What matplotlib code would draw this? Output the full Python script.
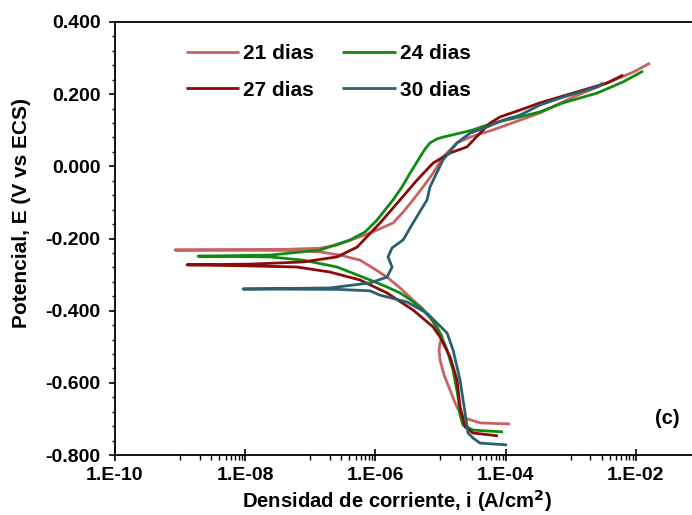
import numpy as np
import matplotlib
matplotlib.use("Agg")
import matplotlib.pyplot as plt
from matplotlib.ticker import FixedLocator, FuncFormatter

plt.rcParams['font.family'] = ['Liberation Sans', 'DejaVu Sans']
plt.rcParams['font.weight'] = 'bold'

# ---- data: log10(current density, A/cm2) and potential (V vs ECS) ----
labels = ["21 dias", "24 dias", "27 dias", "30 dias"]
colors = ["#C96262", "#118A11", "#8B0A0A", "#2C6070"]

logi_21 = [-3.931, -4.392, -4.623, -4.700, -4.776, -4.853, -4.946, -5.007, -5.022, -5.007, -4.976,
           -5.053, -5.161, -5.283, -5.422, -5.621, -5.821, -6.036, -6.236, -6.543, -6.850, -7.357,
           -9.078, -7.357, -6.850, -6.589, -6.082, -5.729, -5.575, -5.422, -5.268, -5.114, -4.961,
           -4.746, -4.546, -4.193, -3.778, -3.471, -2.964, -2.441, -2.042, -1.781]
E_21 = [-0.714, -0.711, -0.698, -0.684, -0.656, -0.620, -0.578, -0.537, -0.509, -0.490, -0.473,
        -0.445, -0.418, -0.393, -0.371, -0.337, -0.307, -0.282, -0.260, -0.246, -0.237, -0.233,
        -0.232, -0.230, -0.227, -0.218, -0.185, -0.157, -0.127, -0.093, -0.057, -0.019, 0.026,
        0.065, 0.081, 0.101, 0.128, 0.148, 0.192, 0.231, 0.261, 0.286]

logi_24 = [-4.039, -4.500, -4.654, -4.700, -4.730, -4.807, -4.899, -5.007, -5.130, -5.268, -5.437,
           -5.621, -5.852, -6.082, -6.589, -7.112, -7.619, -8.725, -7.619, -6.850, -6.390, -6.159,
           -5.975, -5.729, -5.591, -5.468, -5.314, -5.237, -5.161, -5.053, -4.961, -4.700, -4.500,
           -4.193, -3.778, -3.471, -3.117, -2.595, -2.195, -1.888]
E_24 = [-0.736, -0.731, -0.717, -0.689, -0.639, -0.565, -0.509, -0.462, -0.426, -0.398, -0.373,
        -0.351, -0.332, -0.315, -0.279, -0.260, -0.251, -0.249, -0.246, -0.232, -0.204, -0.182,
        -0.149, -0.093, -0.057, -0.019, 0.026, 0.048, 0.065, 0.076, 0.081, 0.092, 0.101,
        0.120, 0.137, 0.151, 0.176, 0.203, 0.234, 0.264]

logi_27 = [-4.116, -4.500, -4.623, -4.700, -4.746, -4.853, -5.007, -5.114, -5.422, -5.821, -6.236,
           -6.697, -7.204, -7.926, -8.894, -7.926, -7.112, -6.589, -6.282, -5.929, -5.621, -5.360,
           -5.114, -4.853, -4.592, -4.392, -4.239, -4.085, -3.778, -3.471, -2.964, -2.441, -2.195]
E_27 = [-0.747, -0.739, -0.722, -0.667, -0.592, -0.528, -0.473, -0.445, -0.398, -0.351, -0.315,
        -0.293, -0.279, -0.276, -0.273, -0.271, -0.265, -0.251, -0.224, -0.157, -0.093, -0.038,
        0.009, 0.037, 0.054, 0.092, 0.120, 0.137, 0.156, 0.176, 0.203, 0.231, 0.253]

logi_30 = [-3.978, -4.392, -4.500, -4.577, -4.623, -4.700, -4.807, -4.899, -5.207, -5.514, -5.929,
           -6.082, -6.589, -8.033, -6.697, -6.082, -5.821, -5.744, -5.806, -5.744, -5.575, -5.422,
           -5.207, -5.161, -4.961, -4.746, -4.546, -4.285, -4.039, -3.778, -3.471, -3.117, -2.595,
           -2.503]
E_30 = [-0.772, -0.767, -0.753, -0.739, -0.684, -0.592, -0.509, -0.462, -0.407, -0.376, -0.357,
        -0.345, -0.341, -0.340, -0.337, -0.323, -0.307, -0.279, -0.251, -0.226, -0.204, -0.157,
        -0.093, -0.057, 0.018, 0.065, 0.092, 0.109, 0.128, 0.142, 0.170, 0.192, 0.220, 0.231]

series_logi = [logi_21, logi_24, logi_27, logi_30]
series_E = [E_21, E_24, E_27, E_30]

x_major = [1e-10, 1e-8, 1e-6, 1e-4, 1e-2]
y_major = [0.4, 0.2, 0.0, -0.2, -0.4, -0.6, -0.8]

# ---- figure ----
W, H = 692, 515
fig = plt.figure(figsize=(W / 100, H / 100), dpi=100)
ax = fig.add_axes([115 / W, 60 / H, (766 - 115) / W, 433 / H])

handles = []
for lg, E, c, lab in zip(series_logi, series_E, colors, labels):
    h, = ax.plot(10 ** np.array(lg), E, color=c, lw=2.0, label=lab,
                 solid_joinstyle='round', solid_capstyle='butt')
    handles.append(h)

ax.set_xscale('log')
ax.set_xlim(1e-10, 1e0)
ax.set_ylim(-0.8, 0.4)

ax.xaxis.set_major_locator(FixedLocator(x_major))
minor = []
for e in range(-10, 0, 2):
    for m in range(1, 10):
        minor.append(m * 10.0 ** (e + 1))
ax.xaxis.set_minor_locator(FixedLocator(minor))
ax.xaxis.set_major_formatter(FuncFormatter(lambda v, p: "1.E%+03d" % int(round(np.log10(v))) if v > 0 else ""))
ax.xaxis.set_minor_formatter(FuncFormatter(lambda v, p: ""))

ax.yaxis.set_major_locator(FixedLocator(y_major))
ax.yaxis.set_minor_locator(FixedLocator(np.arange(-0.8, 0.41, 0.04)))
ax.yaxis.set_major_formatter(FuncFormatter(lambda v, p: "%.3f" % (0.0 if abs(v) < 1e-9 else v)))

ax.tick_params(axis='x', which='major', direction='inout', length=9, width=1.2, labelsize=14, pad=4.5)
ax.tick_params(axis='x', which='minor', direction='out', length=3.5, width=1.0)
ax.tick_params(axis='y', which='major', direction='out', length=4, width=1.2, labelsize=14, pad=6.5)
ax.tick_params(axis='y', which='minor', direction='out', length=2.5, width=1.0)
for lbl in ax.get_xticklabels() + ax.get_yticklabels():
    lbl.set_fontweight('bold')

for s in ['left', 'bottom', 'top']:
    ax.spines[s].set_linewidth(1.3)
ax.spines['right'].set_visible(False)

fig.text(397 / W, 1 - 501 / H, "Densidad de corriente, i (A/cm$^\\mathbf{2}$)", fontsize=14.6,
         fontweight='bold', ha='center', va='center')
fig.text(22 / W, 1 - 213 / H, "Potencial, E (V vs ECS)", rotation=90, fontsize=15,
         fontweight='bold', ha='center', va='center')

fig.text(667 / W, 1 - 418 / H, "(c)", fontsize=14.5, fontweight='bold', ha='center', va='center')

order = [0, 2, 1, 3]
leg = ax.legend([handles[i] for i in order], [labels[i] for i in order],
                loc='upper left', bbox_to_anchor=(186 / W, 1 - 44 / H), bbox_transform=fig.transFigure,
                ncol=2, frameon=False, fontsize=15, handlelength=2.55, handletextpad=0.2,
                columnspacing=1.35, labelspacing=0.85, borderpad=0, borderaxespad=0)
for t in leg.get_texts():
    t.set_fontweight('bold')

fig.savefig("out.png", dpi=100)
